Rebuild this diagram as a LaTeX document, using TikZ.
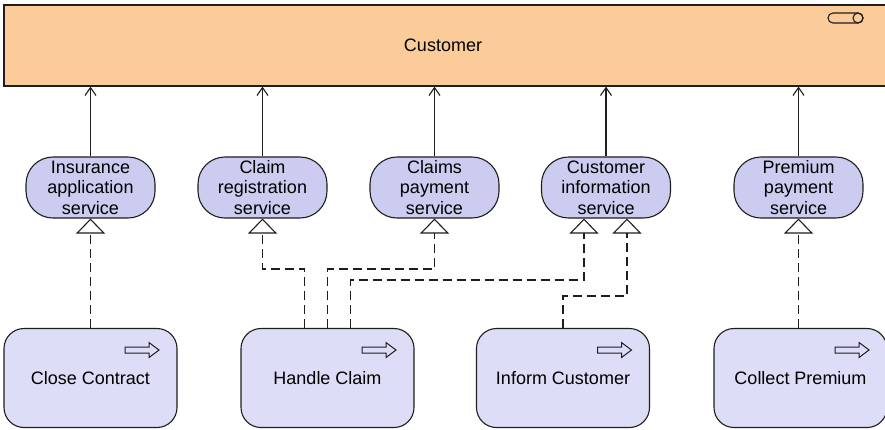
\documentclass[tikz,border=0pt]{standalone}
\usepackage{fontspec}
\setmainfont{Liberation Sans}
\usetikzlibrary{arrows.meta}
\definecolor{peach}{RGB}{251,204,153}
\definecolor{svcfill}{RGB}{204,204,240}
\definecolor{procfill}{RGB}{221,221,247}
\definecolor{ink}{RGB}{30,30,30}
\begin{document}
\begin{tikzpicture}[x=1pt,y=-1pt,
  font=\fontsize{18}{20.5}\selectfont,
  actorbox/.style={draw=ink, line width=1.1pt, fill=peach, minimum width=886pt, minimum height=81pt, inner sep=0pt},
  svcbox/.style={draw=ink, line width=1.1pt, fill=svcfill, rounded corners=27pt, minimum width=129pt, minimum height=61pt, inner sep=0pt, align=center},
  procbox/.style={draw=ink, line width=1.1pt, fill=procfill, rounded corners=20pt, minimum width=173pt, minimum height=99pt, inner sep=0pt, align=center},
  assoc/.style={draw=ink, line width=1.1pt, -{Straight Barb[length=8pt,width=11pt,line width=1.1pt]}},
  realiz/.style={draw=ink, line width=1.1pt, dash pattern=on 9pt off 5pt, -{Triangle[open,length=15pt,width=29pt,line width=1.1pt]}},
  procarrow/.pic={\draw[ink, line width=1pt] (-17,-3) -- (7,-3) -- (7,-7.5) -- (17,0) -- (7,7.5) -- (7,3) -- (-17,3) -- cycle;}
]
\clip (0,0) rectangle (885,429);
\fill[white] (0,0) rectangle (885,429);

% actor
\node[actorbox] (cust) at (447,45.5) {\hspace*{-8pt}Customer};
\draw[ink, line width=1.1pt, rounded corners=5pt] (828,13) rectangle (863,23);
\draw[ink, line width=1.1pt] (858,18) circle (5);

% services
\node[svcbox] (s1) at (90.5,187.5) {Insurance\\application\\service};
\node[svcbox] (s2) at (262.5,187.5) {Claim\\registration\\service};
\node[svcbox] (s3) at (434.5,187.5) {Claims\\payment\\service};
\node[svcbox] (s4) at (606,187.5) {Customer\\information\\service};
\node[svcbox] (s5) at (798.5,187.5) {Premium\\payment\\service};

% processes
\node[procbox] (p1) at (90.5,378) {Close Contract};
\node[procbox] (p2) at (327.5,378) {Handle Claim};
\node[procbox] (p3) at (563,378) {Inform Customer};
\node[procbox] (p4) at (800.5,378) {Collect Premium};
\foreach \p in {p1,p2,p3,p4}{\path (\p.center) ++(51.5,-28) pic {procarrow};}

% serving associations
\foreach \s in {s1,s2,s3,s4,s5}{\draw[assoc] (\s.north) -- (\s.north |- cust.south);}

% realizations
\draw[realiz] (p1.north -| s1.south) -- (s1.south);
\draw[realiz] ([xshift=-23pt]p2.north) -- ++(0,-59) -| (s2.south);
\draw[realiz] (p2.north) -- ++(0,-59) -| (s3.south);
\draw[realiz] ([xshift=23pt]p2.north) -- ++(0,-48) -| ([xshift=-22pt]s4.south);
\draw[realiz] (p3.north) -- ++(0,-32) -| ([xshift=21pt]s4.south);
\draw[realiz] (p4.north -| s5.south) -- (s5.south);
\end{tikzpicture}
\end{document}
